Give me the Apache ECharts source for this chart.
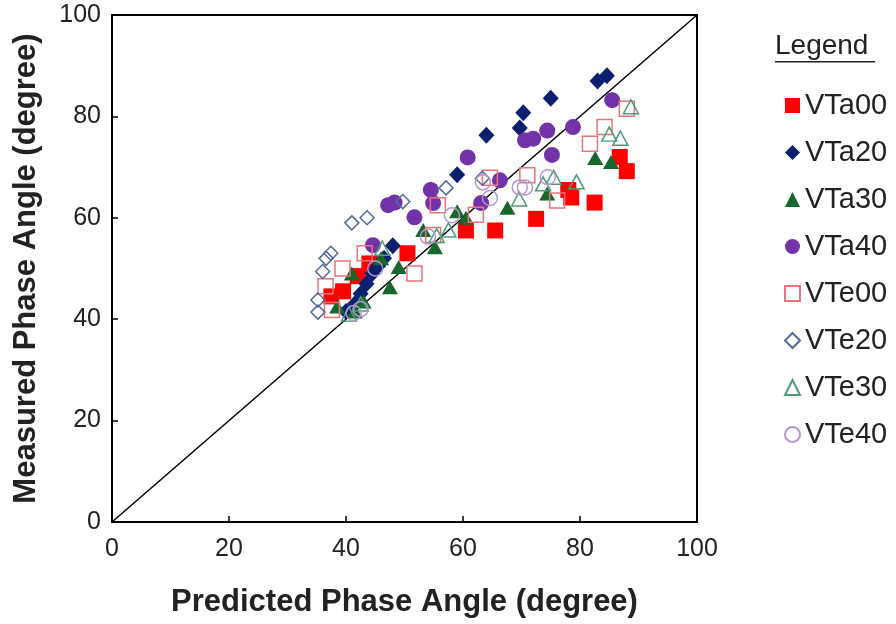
<!DOCTYPE html>
<html>
<head>
<meta charset="utf-8">
<script src="https://cdn.jsdelivr.net/npm/echarts@6/dist/echarts.min.js"></script>
<style>html,body{margin:0;padding:0;background:#fff;}#c{width:896px;height:624px;}</style>
</head>
<body>
<div id="c"></div>
<script>
// Data: [predicted, measured]
const VTa00 = [[37.5,44.5],[39.5,45.5],[42,48.5],[44,51],[50.5,53],[60.5,57.5],[65.5,57.5],[72.5,59.8],[78,65.5],[78.5,64],[82.5,63],[86.8,72],[88,69.2]];
const VTa20 = [[40,41.5],[41.5,43],[42.5,45],[43.5,47],[44.5,49],[45.5,50.5],[46.5,52],[48,54.5],[54.5,65.5],[59,68.5],[64,76.3],[69.7,77.7],[70.3,80.7],[75,83.6],[83,87],[84.6,88]];
const VTa30 = [[38.5,42.5],[41,49],[41.5,41.5],[43,43.5],[46,52],[47.5,46.3],[49,50.3],[53.2,57.6],[55.2,54.2],[59,61.3],[60.5,60],[67.6,62],[74.4,64.8],[82.6,71.8],[85.3,71]];
const VTa40 = [[44.6,54.6],[47.2,62.5],[48.3,63],[51.7,60.1],[54.5,65.5],[54.9,62.9],[60.8,71.9],[63.1,62.9],[66.3,67.4],[70.6,75.3],[72,75.6],[74.4,77.2],[75.2,72.4],[78.8,77.9],[85.5,83.2]];
const VTe00 = [[36.5,46.5],[37.6,41.8],[39.4,50],[43.2,53],[51.7,49],[54.9,56.6],[55.7,62.5],[62.2,60.6],[64.6,67.9],[71,68.4],[76.1,63.4],[81.7,74.6],[84.2,77.9],[88,81.5]];
const VTe20 = [[35.2,41.4],[35.2,43.8],[36,49.4],[36.6,52],[37.4,53],[41,59],[43.6,60],[49.7,63.2],[57.1,65.9],[63.3,67.8]];
const VTe30 = [[40.5,41],[42.5,43],[46.2,54],[55.5,56.5],[57.5,57.6],[69.6,63.7],[73.7,66.7],[75.5,68],[79.4,67.1],[85,76.5],[86.9,75.7],[88.7,81.9]];
const VTe40 = [[41.3,41.2],[42.5,42],[45,50],[54,56.3],[58.1,60.5],[63.4,67],[64.6,63.9],[69.7,66],[70.6,66],[74.5,68]];
const diagonal = [[0,0],[100,100]];
const xTicks = [0,20,40,60,80,100];
const yTicks = [0,20,40,60,80,100];

const names = ['VTa00','VTa20','VTa30','VTa40','VTe00','VTe20','VTe30','VTe40'];
const datasets = [VTa00,VTa20,VTa30,VTa40,VTe00,VTe20,VTe30,VTe40];
const styles = [
  {symbol:'rect', size:16, color:'#ff0000', border:'#ff0000', bw:0},
  {symbol:'diamond', size:[16,17], color:'#0a1f6e', border:'#0a1f6e', bw:0},
  {symbol:'triangle', size:[16,14], color:'#17662c', border:'#17662c', bw:0},
  {symbol:'circle', size:16, color:'#7232a8', border:'#7232a8', bw:0},
  {symbol:'rect', size:15, color:'rgba(255,255,255,0)', border:'#e8747c', bw:1.5},
  {symbol:'diamond', size:[14,14], color:'rgba(255,255,255,0)', border:'#56689e', bw:1.5},
  {symbol:'triangle', size:[15,14], color:'rgba(255,255,255,0)', border:'#4e9a78', bw:1.5},
  {symbol:'circle', size:15, color:'rgba(255,255,255,0)', border:'#b496d0', bw:1.5}
];

const series = names.map((n,i)=>({
  name:n, type:'scatter', data:datasets[i], symbol:styles[i].symbol, symbolSize:styles[i].size,
  itemStyle:{color:styles[i].color, borderColor:styles[i].border, borderWidth:styles[i].bw, opacity:1},
  z:3
}));
series.push({
  name:'diag', type:'line', data:diagonal, symbol:'none', silent:true,
  lineStyle:{color:'#000', width:1.5}, z:2
});

const chart = echarts.init(document.getElementById('c'), null, {renderer:'canvas'});
chart.setOption({
  animation:false,
  backgroundColor:'#fff',
  grid:{left:112, right:199, top:15, bottom:102, show:true, borderColor:'#000', borderWidth:2, backgroundColor:'transparent'},
  xAxis:{
    type:'value', min:xTicks[0], max:xTicks[xTicks.length-1], interval:20,
    name:'Predicted Phase Angle (degree)', nameLocation:'middle', nameGap:65,
    nameTextStyle:{fontFamily:'Liberation Sans, Arial', fontWeight:'bold', fontSize:31, color:'#222'},
    axisLine:{show:true, lineStyle:{color:'#000', width:2}},
    axisTick:{show:true, inside:true, length:6, lineStyle:{color:'#000', width:1.5}},
    axisLabel:{fontFamily:'Liberation Sans, Arial', fontSize:25, color:'#222', margin:15},
    splitLine:{show:false}
  },
  yAxis:{
    type:'value', min:yTicks[0], max:yTicks[yTicks.length-1], interval:20,
    name:'Measured Phase Angle (degree)', nameLocation:'middle', nameGap:70,
    nameTextStyle:{fontFamily:'Liberation Sans, Arial', fontWeight:'bold', fontSize:31, color:'#222'},
    axisLine:{show:true, lineStyle:{color:'#000', width:2}},
    axisTick:{show:true, inside:true, length:6, lineStyle:{color:'#000', width:1.5}},
    axisLabel:{fontFamily:'Liberation Sans, Arial', fontSize:25, color:'#222', margin:11},
    splitLine:{show:false}
  },
  legend:{
    data:names, orient:'vertical', left:779, top:86, itemWidth:15, itemHeight:15, itemGap:18,
    textStyle:{fontFamily:'Liberation Sans, Arial', fontSize:29, lineHeight:28, color:'#222'},
    selectedMode:false
  },
  graphic:[
    {type:'text', left:775, top:32, style:{text:'Legend', font:'28px "Liberation Sans", Arial', fill:'#222'}},
    {type:'rect', left:775, top:61, shape:{width:100, height:1.5}, style:{fill:'#222'}}
  ],
  series:series
});
</script>
</body>
</html>
